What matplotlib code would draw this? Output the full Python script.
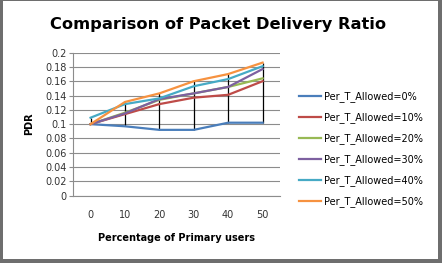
import numpy as np
import matplotlib.pyplot as plt
from matplotlib.patches import Rectangle

# dados
users = [0, 10, 20, 30, 40, 50]
pdr_0 = [0.100, 0.097, 0.092, 0.092, 0.102, 0.102]
pdr_10 = [0.100, 0.114, 0.128, 0.137, 0.141, 0.160]
pdr_20 = [0.100, 0.116, 0.134, 0.143, 0.152, 0.164]
pdr_30 = [0.100, 0.115, 0.135, 0.143, 0.152, 0.177]
pdr_40 = [0.109, 0.128, 0.136, 0.153, 0.163, 0.181]
pdr_50 = [0.100, 0.131, 0.143, 0.160, 0.170, 0.186]
labels = ['Per_T_Allowed=0%', 'Per_T_Allowed=10%', 'Per_T_Allowed=20%',
          'Per_T_Allowed=30%', 'Per_T_Allowed=40%', 'Per_T_Allowed=50%']
cores = ['#4A7EBB', '#BE4B48', '#98B954', '#7D60A0', '#46AAC5', '#F69240']

series = [pdr_0, pdr_10, pdr_20, pdr_30, pdr_40, pdr_50]

fig = plt.figure(figsize=(4.42, 2.63), dpi=100)
ax = fig.add_axes([0.166, 0.256, 0.467, 0.544])

x = np.arange(len(users))
dados = np.array(series)
# linhas max-min (estilo excel)
ax.vlines(x, dados.min(axis=0), dados.max(axis=0), color='black', lw=0.9, zorder=3)
for s, c, l in zip(series, cores, labels):
    ax.plot(x, s, color=c, lw=1.6, label=l, zorder=4)

ax.set_xlim(-0.5, 5.5)
ax.set_ylim(0, 0.2)
ax.set_yticks(np.arange(0, 0.201, 0.02))
ax.set_yticklabels(['0', '0.02', '0.04', '0.06', '0.08', '0.1', '0.12', '0.14', '0.16', '0.18', '0.2'])
ax.set_xticks(x)
ax.set_xticklabels([str(u) for u in users])
ax.yaxis.grid(True, color='#8c8c8c', lw=0.8)
ax.set_axisbelow(True)
for sp in ['top', 'right']:
    ax.spines[sp].set_visible(False)
ax.spines['left'].set_color('#8c8c8c')
ax.spines['bottom'].set_color('#8c8c8c')
ax.tick_params(axis='y', labelsize=7, length=3, color='#8c8c8c', pad=2, labelcolor='#333333')
ax.tick_params(axis='x', labelsize=7, length=0, pad=10, labelcolor='#333333')

ax.set_ylabel('PDR', fontsize=7, fontweight='bold', labelpad=8)
ax.set_xlabel('Percentage of Primary users', fontsize=7, fontweight='bold', labelpad=10)
fig.text(0.493, 0.905, 'Comparison of Packet Delivery Ratio', ha='center', va='center',
         fontsize=11.7, fontweight='bold')

ax.legend(loc='center left', bbox_to_anchor=(1.05, 0.325), frameon=False, fontsize=7,
          handlelength=2.3, handletextpad=0.3, labelspacing=1.05)

# moldura cinza (borda do grafico do excel)
W, H = 442, 263
borda = [(0, 0, 3, H), (W - 4, 0, 4, H), (0, 0, W, 4), (0, H - 1, W, 1)]
for bx, by, bw, bh in borda:
    fig.patches.append(Rectangle((bx / W, by / H), bw / W, bh / H, transform=fig.transFigure,
                                 facecolor='#6e6e6e', edgecolor='none'))
fig.savefig('out.png', dpi=100)
